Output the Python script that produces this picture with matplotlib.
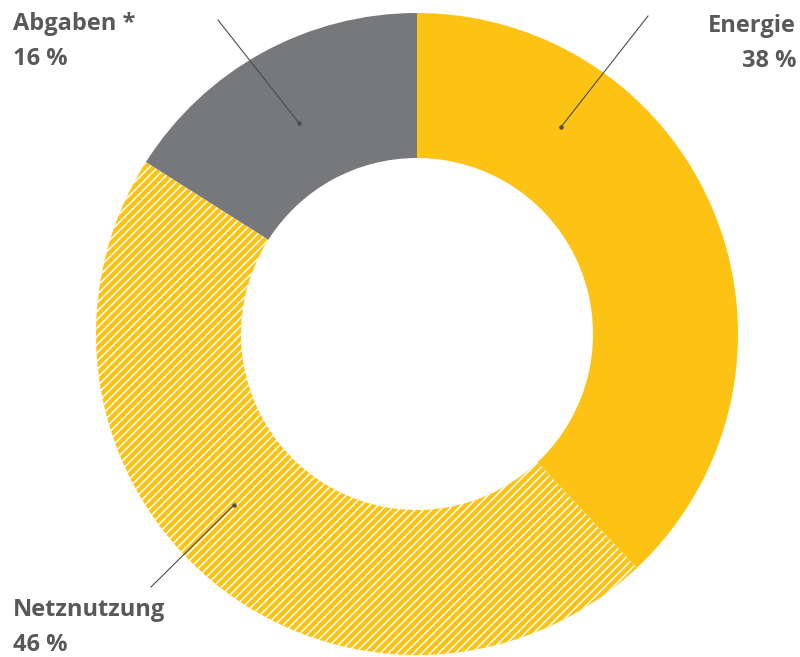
import matplotlib
matplotlib.use("Agg")
import matplotlib.pyplot as plt

# ── Data ─────────────────────────────────────────────────────────────────────
labels = ["Energie", "Netznutzung", "Abgaben *"]
shares = [38, 46, 16]
colors = ["#FDC314", "#FDC314", "#77787B"]
hatches = [None, "////", None]

# label anchor (pixel coords, y from top), alignment, leader line (dot -> end)
label_pos = [(796, 26, "right"), (13, 610, "left"), (13, 24, "left")]
leaders = [((561, 127), (648, 16)), ((234, 505), (151, 587)), ((299, 123), (218, 20))]

W, H = 800, 657
TEXT_COLOR = "#58595B"

fig = plt.figure(figsize=(W / 100, H / 100), dpi=100)
ax = fig.add_axes([0, 0, 1, 1])

plt.rcParams["hatch.linewidth"] = 1.1

wedges, _ = ax.pie(
    shares, colors=colors, startangle=90, counterclock=False,
    center=(417, H - 334), radius=321,
    wedgeprops=dict(width=145, linewidth=0, edgecolor="white"),
)
for w, h in zip(wedges, hatches):
    if h:
        w.set_hatch(h)

ax.set_xlim(0, W)
ax.set_ylim(0, H)
ax.set_aspect("equal")
ax.axis("off")

# ── Leader lines ─────────────────────────────────────────────────────────────
for (p0, p1) in leaders:
    ax.plot([p0[0], p1[0]], [H - p0[1], H - p1[1]], color="#4D4D4D", lw=0.8,
            zorder=5)
    ax.plot(p0[0], H - p0[1], "o", color="#4D4D4D", ms=2.2, zorder=5)

# ── Labels ───────────────────────────────────────────────────────────────────
for lab, val, (x, y, ha) in zip(labels, shares, label_pos):
    ax.text(x, H - y, lab, ha=ha, va="center", fontsize=17, fontweight="bold",
            family="Open Sans", color=TEXT_COLOR)
    ax.text(x, H - y - 35, f"{val} %", ha=ha, va="center", fontsize=17,
            fontweight="bold", family="Open Sans", color=TEXT_COLOR)

fig.savefig("out.png", dpi=100)
